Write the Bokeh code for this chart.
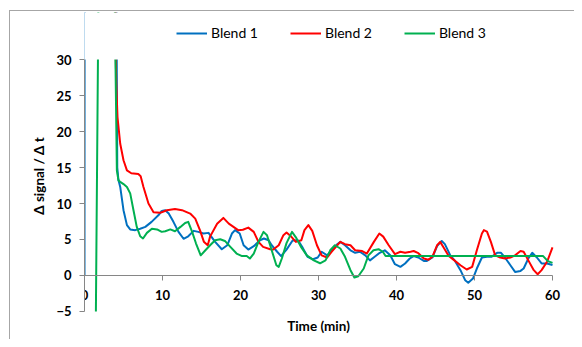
from bokeh.plotting import figure
from bokeh.models import Legend, LegendItem, FixedTicker, BoxAnnotation
from bokeh.embed import file_html
from bokeh.resources import INLINE

# ---- data ----
blend1_t = [0, 0.02, 4.0, 4.2, 4.35, 4.58, 5.0, 5.44, 5.86, 6.5, 7.14, 7.8, 8.6, 9.5, 9.9, 10.35, 10.8,
            11.4, 12.05, 12.7, 13.3, 14.0, 14.6, 15.25, 15.9, 16.75, 17.6, 18.3, 18.9, 19.3, 19.9, 20.4,
            21.0, 21.7, 22.5, 23.0, 23.6, 24.0, 24.7, 25.2, 25.9, 26.7, 27.4, 28.0, 28.6, 29.3, 29.9,
            30.4, 31.1, 31.7, 32.4, 32.8, 33.4, 34.1, 34.7, 35.3, 36.0, 36.6, 37.2, 37.85, 38.5, 39.2,
            39.8, 40.5, 41.1, 41.7, 42.2, 42.8, 43.5, 43.9, 44.6, 45.2, 45.8, 46.2, 46.9, 47.5, 48.2,
            48.8, 49.2, 49.8, 50.3, 50.95, 51.6, 52.2, 52.9, 53.4, 53.9, 54.6, 55.2, 55.9, 56.3, 56.9,
            57.4, 58.0, 58.6, 59.3, 60.0]
blend1_v = [0, 60, 60, 15.0, 13.3, 12.3, 9.07, 7.0, 6.4, 6.3, 6.5, 6.75, 7.45, 8.4, 8.97, 9.07, 8.6,
            7.45, 6.06, 5.1, 5.45, 6.2, 6.06, 5.83, 5.92, 4.67, 3.65, 4.2, 5.83, 6.3, 5.83, 4.2,
            3.6, 4.07, 4.9, 5.14, 4.9, 4.2, 3.3, 2.7, 3.6, 4.9, 4.85, 3.8, 2.6, 2.25, 2.5,
            3.3, 2.8, 3.5, 4.35, 4.67, 4.2, 3.5, 3.15, 3.3, 2.8, 2.1, 2.6, 3.15, 3.5, 2.8,
            1.57, 1.2, 1.67, 2.36, 2.7, 2.5, 2.03, 2.03, 2.5, 4.07, 4.8, 4.35, 2.8, 2.03, 0.74,
            -0.65, -1.0, -0.42, 0.97, 2.5, 2.6, 2.6, 3.15, 3.15, 2.5, 1.43, 0.5, 0.64, 0.97, 2.36,
            3.15, 2.5, 1.67, 1.67, 1.45]

blend2_t = [3.9, 4.0, 4.07, 4.23, 4.58, 5.0, 5.44, 6.0, 6.9, 7.2, 7.56, 8.2, 8.85, 9.7, 10.56, 11.6,
            12.5, 13.55, 14.2, 14.8, 15.3, 15.8, 16.1, 17.0, 17.8, 18.5, 19.1, 19.7, 20.3, 21.0, 21.7,
            22.3, 22.9, 23.8, 24.2, 24.9, 25.5, 25.9, 26.5, 27.1, 27.8, 28.2, 28.7, 29.2, 29.8, 30.4,
            31.1, 31.7, 32.4, 32.8, 33.4, 34.1, 34.7, 35.6, 36.2, 37.1, 37.8, 38.3, 39.0, 39.8, 40.5,
            41.1, 41.8, 42.2, 42.8, 43.5, 44.1, 44.6, 45.2, 45.6, 46.0, 46.7, 47.3, 48.2, 49.0, 49.7,
            50.3, 50.95, 51.2, 51.6, 52.1, 52.65, 53.3, 53.9, 54.6, 55.2, 55.9, 56.3, 56.9, 57.6,
            58.1, 58.6, 59.3, 60.0]
blend2_v = [60, 30.5, 26.7, 22, 18.3, 16, 14.6, 14.2, 14.1, 13.8, 12.3, 10.0, 8.8, 8.7, 9.07, 9.25,
            9.07, 8.6, 7.9, 6.3, 4.7, 4.2, 5.4, 7.2, 8.0, 7.2, 6.75, 6.3, 6.35, 6.65, 6.06,
            4.67, 3.97, 3.65, 3.6, 4.2, 5.6, 5.97, 5.4, 4.67, 4.9, 6.3, 7.0, 6.2, 4.2, 2.8,
            2.5, 3.3, 4.2, 4.67, 4.35, 4.2, 3.5, 3.4, 3.05, 4.67, 5.83, 5.4, 4.2, 2.96, 3.3,
            3.15, 3.3, 3.4, 3.1, 2.36, 2.2, 2.6, 4.2, 4.67, 3.97, 2.7, 2.2, 1.43, 0.83, 1.2,
            3.5, 5.83, 6.3, 6.1, 4.67, 2.8, 2.5, 2.36, 2.5, 2.8, 3.4, 3.3, 2.1, 0.74,
            0.18, 0.74, 1.9, 3.9]

blend3_t = [1.46, 1.8, 3.85, 4.15, 4.35, 4.58, 5.0, 5.44, 5.86, 6.28, 6.7, 7.14, 7.5, 8.0, 8.64, 9.3,
            9.9, 10.35, 11.0, 11.6, 12.3, 12.9, 13.3, 13.8, 14.3, 14.9, 15.5, 16.1, 16.75, 17.4, 18.0,
            18.7, 19.5, 20.2, 20.8, 21.2, 21.7, 22.3, 22.95, 23.4, 24.0, 24.6, 24.9, 25.3, 25.9, 26.6,
            27.1, 27.8, 28.5, 29.4, 30.2, 30.9, 31.5, 32.1, 32.8, 33.4, 34.1, 34.6, 35.1, 35.8, 36.4,
            37.05, 37.7, 38.25, 38.6, 58.8, 59.4, 60.0]
blend3_v = [-5.0, 40, 40, 14.6, 13.2, 13.0, 12.7, 12.3, 11.4, 9.07, 6.75, 5.45, 5.14, 5.92, 6.5, 6.4,
            6.06, 6.15, 6.4, 6.15, 6.75, 7.3, 7.45, 6.06, 4.44, 2.8, 3.5, 4.2, 4.9, 5.04, 4.8,
            3.97, 3.05, 2.7, 2.7, 2.36, 3.05, 4.67, 6.06, 5.6, 3.5, 1.43, 1.2, 2.36, 4.5, 6.06,
            5.3, 3.9, 2.8, 2.1, 1.7, 2.1, 3.5, 4.2, 3.75, 2.6, 0.74, -0.28, -0.1, 0.97, 2.8,
            3.5, 3.65, 3.3, 2.7, 2.7, 2.0, 1.75]

series_names = ["Blend 1", "Blend 2", "Blend 3"]
series_colors = ["#0070C0", "#FF0000", "#00B050"]
x_ticks = [0, 10, 20, 30, 40, 50, 60]
y_ticks = [-5, 0, 5, 10, 15, 20, 25, 30]
x_axis_span = (0, 60)
y_axis_span = (-5, 30)

FONT = "Lato"
AXIS_GRAY = "#868686"

# frame extended beyond the axis spans (same px/unit scale) so that the
# legend on top and the axis texts at the bottom/right are not clipped
p = figure(width=574, height=339, x_range=(0, 62.82), y_range=(-8.889, 36.528),
           output_backend="svg", toolbar_location=None,
           min_border_left=84, min_border_right=0, min_border_top=12, min_border_bottom=0)
p.outline_line_color = None
p.grid.visible = False
p.border_fill_alpha = 0
p.styles = {
    "background": "linear-gradient(#A6A6A6,#A6A6A6) 9px 10px / 1px 100% no-repeat, "
                  "linear-gradient(#A6A6A6,#A6A6A6) 9px 10px / 100% 1px no-repeat",
}

renderers = []
for (t, v), col in zip([(blend1_t, blend1_v), (blend2_t, blend2_v), (blend3_t, blend3_v)], series_colors):
    r = p.line(t, v, line_color=col, line_width=2, line_join="round")
    renderers.append(r)

# hide what lies above the top of the value axis (plot-area clipping)
p.add_layout(BoxAnnotation(bottom=y_axis_span[1], left=-0.1, fill_color="white", fill_alpha=1,
                           line_color=None))

# x axis crossing at y = 0
xa = p.xaxis[0]
xa.fixed_location = 0
xa.bounds = x_axis_span
xa.ticker = FixedTicker(ticks=x_ticks)
xa.axis_label = "Time (min)"
xa.axis_label_standoff = 14
ya = p.yaxis[0]
ya.bounds = y_axis_span
ya.ticker = FixedTicker(ticks=y_ticks)
ya.axis_label = "\u0394 signal / \u0394 t"
ya.axis_label_standoff = 6

for ax in (xa, ya):
    ax.axis_line_color = AXIS_GRAY
    ax.major_tick_line_color = AXIS_GRAY
    ax.major_tick_out = 5
    ax.major_tick_in = 0
    ax.minor_tick_line_color = None
    ax.major_label_text_font = FONT
    ax.major_label_text_font_style = "bold"
    ax.major_label_text_font_size = "13px"
    ax.major_label_text_color = "#000000"
    ax.axis_label_text_font = FONT
    ax.axis_label_text_font_style = "bold"
    ax.axis_label_text_font_size = "13.5px"
    ax.axis_label_text_color = "#000000"
xa.major_label_standoff = 10
ya.major_label_standoff = 8

legend = Legend(items=[LegendItem(label=n, renderers=[r]) for n, r in zip(series_names, renderers)],
                orientation="horizontal", location=(92, 298),
                border_line_color=None, background_fill_alpha=0,
                padding=0, margin=0, spacing=32, glyph_width=31, glyph_height=14,
                label_standoff=4, label_text_font=FONT, label_text_font_size="14px",
                label_text_color="#000000")
p.add_layout(legend)

open("out.html", "w").write(file_html(p, INLINE))
